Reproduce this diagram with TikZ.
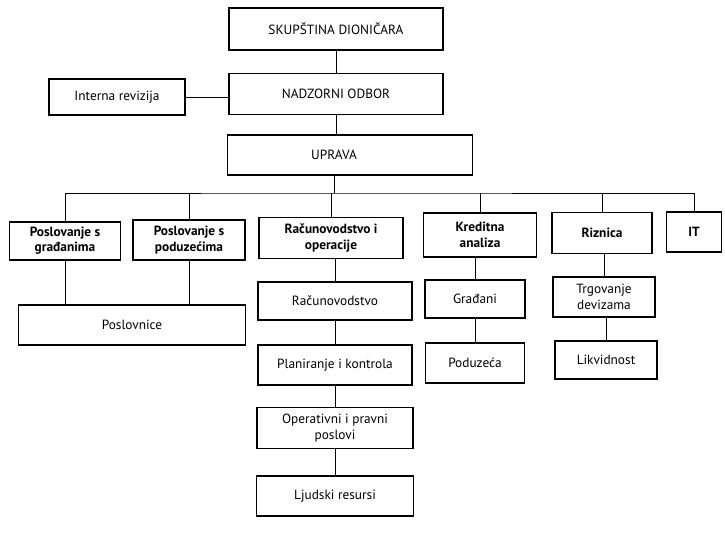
\documentclass[tikz,border=0pt]{standalone}
\usepackage{fontspec}
\setmainfont{PT Sans}
\begin{document}
\begin{tikzpicture}[x=0.75pt,y=-0.75pt,
                    box/.style = {draw,line width=0.8pt,align=center,inner sep=1pt,
                                  font=\fontsize{10}{11.5}\selectfont},
                    head/.style = {box,font=\fontsize{10}{11.5}\selectfont\bfseries},
                    wh/.style 2 args = {minimum width=#1*0.75pt,minimum height=#2*0.75pt},
                    link/.style = {line width=0.6pt}]
                    \useasboundingbox (0,0) rectangle (725,536);

                    % top of the company
                    \node[box,wh={214}{42}] (skup) at (336,29) {SKUPŠTINA DIONIČARA};
                    \node[box,wh={214}{41}] (nadzor) at (336,94) {NADZORNI ODBOR};
                    \node[box,wh={136}{36}] (interna) at (117,97) {Interna revizija};
                    \node[box,wh={245}{40},label={[font=\fontsize{10}{11.5}\selectfont,xshift=-12pt]center:UPRAVA}]
                        (uprava) at (350,155) {};

                    % sectors
                    \node[head,wh={111}{38}] (pgr) at (65,241) {Poslovanje s\\građanima};
                    \node[head,wh={112}{40}] (ppo) at (189,240) {Poslovanje s\\poduzećima};
                    \node[head,wh={144}{41}] (rio) at (331,238) {Računovodstvo i\\operacije};
                    \node[head,wh={113}{44}] (kred) at (480,235) {Kreditna\\analiza};
                    \node[head,wh={100}{41}] (riz) at (602,233) {Riznica};
                    \node[head,wh={55}{40}] (it) at (694,232) {IT};

                    % departments
                    \node[box,wh={227}{40}] (posl) at (132,325) {Poslovnice};
                    \node[box,wh={154}{38}] (racun) at (335,301) {Računovodstvo};
                    \node[box,wh={154}{40}] (plan) at (335,365) {Planiranje i kontrola};
                    \node[box,wh={156}{41}] (oper) at (335,428) {Operativni i pravni\\poslovi};
                    \node[box,wh={157}{40}] (ljud) at (335,496) {Ljudski resursi};
                    \node[box,wh={100}{38}] (grad) at (475,299) {Građani};
                    \node[box,wh={99}{40}] (podu) at (475,363) {Poduzeća};
                    \node[box,wh={102}{40}] (trg) at (604,297) {Trgovanje\\devizama};
                    \node[box,wh={102}{38}] (likv) at (606,360) {Likvidnost};

                    \coordinate (bus) at (334,193);

                    \draw[link] (skup.south) -- (skup.south |- nadzor.north);
                    \draw[link] (nadzor.south) -- (nadzor.south |- uprava.north);
                    \draw[link] (interna.east) -- (interna.east -| nadzor.west);
                    \draw[link] (bus |- uprava.south) -- (bus);
                    \draw[link] (pgr.north) |- (bus) -| (it.north);
                    \foreach \n in {ppo,rio,kred,riz}
                        \draw[link] (\n.north) -- (\n.north |- bus);

                    \foreach \a/\b in {pgr/posl,ppo/posl}
                        \draw[link] (\a.south) -- (\a.south |- \b.north);
                    \foreach \a/\b in {rio/racun,racun/plan,plan/oper,oper/ljud,
                                       kred/grad,grad/podu,riz/trg,trg/likv}
                        \draw[link] (\b.north) -- (\b.north |- \a.south);
                \end{tikzpicture}
\end{document}
